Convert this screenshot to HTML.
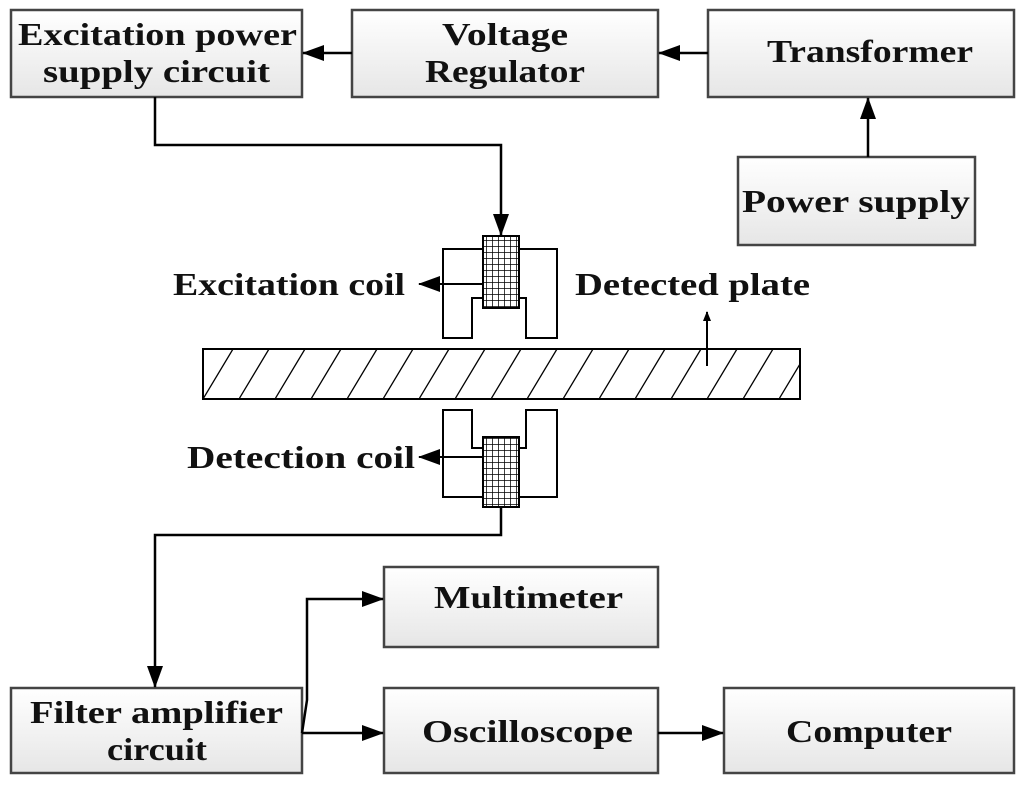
<!DOCTYPE html>
<html><head><style>body{margin:0;background:#fff}svg{display:block}text{font-family:"Liberation Serif",serif;font-weight:bold;font-size:32px;fill:#111}</style></head><body>
<svg width="1024" height="788" viewBox="0 0 1024 788">
<defs>
<linearGradient id="g" x1="0" y1="0" x2="0" y2="1"><stop offset="0" stop-color="#fff"/><stop offset="1" stop-color="#e6e6e6"/></linearGradient>
<marker id="a" markerWidth="10" markerHeight="8" refX="9" refY="4" orient="auto" markerUnits="userSpaceOnUse"><path d="M0,0 L10,4 L0,8 z" fill="#000"/></marker>
<marker id="b" markerWidth="22" markerHeight="16" refX="21" refY="8" orient="auto" markerUnits="userSpaceOnUse"><path d="M0,0 L22,8 L0,16 z" fill="#000"/></marker>
<pattern id="h" width="36" height="50" patternUnits="userSpaceOnUse" x="203" y="349"><line x1="0" y1="50" x2="30" y2="0" stroke="#000" stroke-width="1.3"/></pattern>
<pattern id="w" width="6" height="6" patternUnits="userSpaceOnUse"><rect width="6" height="6" fill="#fff"/><path d="M0,0H6M0,0V6" stroke="#000" stroke-width="1.5"/></pattern>
</defs>
<g stroke="#444" stroke-width="2.5" fill="url(#g)">
<rect x="11" y="10" width="291" height="87"/>
<rect x="352" y="10" width="306" height="87"/>
<rect x="708" y="10" width="306" height="87"/>
<rect x="738" y="157" width="237" height="88"/>
<rect x="384" y="567" width="274" height="80"/>
<rect x="11" y="688" width="291" height="85"/>
<rect x="384" y="688" width="274" height="85"/>
<rect x="724" y="688" width="290" height="85"/>
</g>
<g>
<text x="18" y="45" textLength="279" lengthAdjust="spacingAndGlyphs">Excitation power</text>
<text x="43" y="82" textLength="227" lengthAdjust="spacingAndGlyphs">supply circuit</text>
<text x="442" y="45" textLength="126" lengthAdjust="spacingAndGlyphs">Voltage</text>
<text x="425" y="82" textLength="160" lengthAdjust="spacingAndGlyphs">Regulator</text>
<text x="767" y="62" textLength="206" lengthAdjust="spacingAndGlyphs">Transformer</text>
<text x="742" y="212" textLength="228" lengthAdjust="spacingAndGlyphs">Power supply</text>
<text x="434" y="608" textLength="189" lengthAdjust="spacingAndGlyphs">Multimeter</text>
<text x="30" y="723" textLength="253" lengthAdjust="spacingAndGlyphs">Filter amplifier</text>
<text x="107" y="760" textLength="100" lengthAdjust="spacingAndGlyphs">circuit</text>
<text x="422" y="742" textLength="211" lengthAdjust="spacingAndGlyphs">Oscilloscope</text>
<text x="786" y="742" textLength="166" lengthAdjust="spacingAndGlyphs">Computer</text>
<text x="173" y="295" textLength="232" lengthAdjust="spacingAndGlyphs">Excitation coil</text>
<text x="575" y="295" textLength="235" lengthAdjust="spacingAndGlyphs">Detected plate</text>
<text x="187" y="468" textLength="228" lengthAdjust="spacingAndGlyphs">Detection coil</text>
</g>
<g stroke="#000" stroke-width="2.5" fill="none">
<line x1="352" y1="53" x2="303" y2="53" marker-end="url(#b)"/>
<line x1="708" y1="53" x2="659" y2="53" marker-end="url(#b)"/>
<line x1="868" y1="157" x2="868" y2="98" marker-end="url(#b)"/>
<polyline points="155,97 155,145 501,145 501,235" marker-end="url(#b)"/>
<polyline points="501,507 501,535 155,535 155,687" marker-end="url(#b)"/>
<polyline points="302,733 307,700 307,599 383,599" marker-end="url(#b)"/>
<line x1="302" y1="733" x2="383" y2="733" marker-end="url(#b)"/>
<line x1="658" y1="733" x2="723" y2="733" marker-end="url(#b)"/>
</g>
<g stroke="#000" stroke-width="2" fill="#fff">
<path d="M443,249 H557 V338 H526 V298 H472 V338 H443 Z"/>
<path d="M443,410 H472 V448 H526 V410 H557 V497 H443 Z"/>
<rect x="483" y="236" width="36" height="72" fill="url(#w)"/>
<rect x="483" y="437" width="36" height="70" fill="url(#w)"/>
<rect x="203" y="349" width="597" height="50" fill="url(#h)"/>
</g>
<g stroke="#000" stroke-width="2" fill="none">
<line x1="483" y1="284" x2="419" y2="284" marker-end="url(#b)"/>
<line x1="483" y1="457" x2="419" y2="457" marker-end="url(#b)"/>
<line x1="707" y1="366" x2="707" y2="312" marker-end="url(#a)"/>
</g>
</svg>
</body></html>
